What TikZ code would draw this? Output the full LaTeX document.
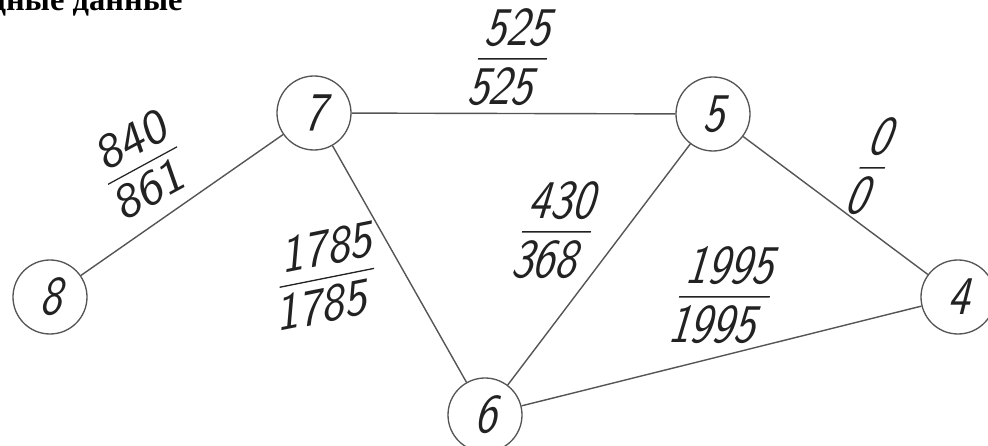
\documentclass[tikz,border=0pt]{standalone}
\usepackage{fontspec}
\usepackage{tikz}
\usetikzlibrary{positioning}
\newfontfamily\titlefont{Liberation Serif}
\newfontfamily\gostfont{lmsans10-regular.otf}[FakeStretch=0.8,FakeSlant=0.25]
\newfontfamily\gostup{lmsans10-regular.otf}[FakeStretch=0.8]
\definecolor{lgray}{HTML}{555555}
\definecolor{ink}{HTML}{222222}
\newcommand{\flowfrac}[2]{%
  \renewcommand{\arraystretch}{0}\setlength{\arrayrulewidth}{0.8pt}%
  \begin{tabular}{@{\hspace{1pt}}c@{\hspace{1pt}}}\rule[-0.26cm]{0pt}{0.76cm}#1\\\hline\rule{0pt}{0.9cm}#2\end{tabular}}
\tikzset{
  vertex/.style={
    circle, draw=lgray, line width=0.75pt, minimum size=1.48cm, inner sep=0pt,
    text=ink, font=\gostfont\fontsize{31}{37}\selectfont
  },
  link/.style={draw=lgray, line width=0.8pt},
  flow/.style={
    inner sep=0pt, text=ink, xslant=0.3, transform shape,
    font=\gostup\fontsize{31}{37}\selectfont
  },
  heading/.style={font=\titlefont\bfseries\fontsize{18.5}{22}\selectfont, inner sep=0pt}
}
\begin{document}
\begin{tikzpicture}
  \useasboundingbox (0,0) rectangle (19.76,8.92);
  \node[heading,anchor=base east] (title) at (3.66,8.70) {Исходные данные};
  \node[vertex] (n8) at (1.00,2.98) {8};
  \node[vertex] (n7) at (6.28,6.66) {7};
  \node[vertex] (n5) at (14.26,6.64) {5};
  \node[vertex] (n4) at (19.16,2.98) {4};
  \node[vertex] (n6) at (9.70,0.62) {6};
  \draw[link] (n8) -- (n7);
  \draw[link] (n7) -- (n5);
  \draw[link] (n7) -- (n6);
  \draw[link] (n5) -- (n6);
  \draw[link] (n5) -- (n4);
  \draw[link] (n6) -- (n4);
  \node[flow,rotate=33] (f87) at (2.84,5.64) {\flowfrac{840}{861}};
  \node[flow] (f75) at (10.26,7.78) {\flowfrac{525}{525}};
  \node[flow,rotate=12] (f76) at (6.54,3.40) {\flowfrac{1785}{1785}};
  \node[flow] (f56) at (11.14,4.32) {\flowfrac{430}{368}};
  \node[flow,xslant=0.1] (f54) at (17.46,5.60) {\flowfrac{0}{0}};
  \node[flow] (f64) at (14.50,3.02) {\flowfrac{1995}{1995}};
\end{tikzpicture}
\end{document}
